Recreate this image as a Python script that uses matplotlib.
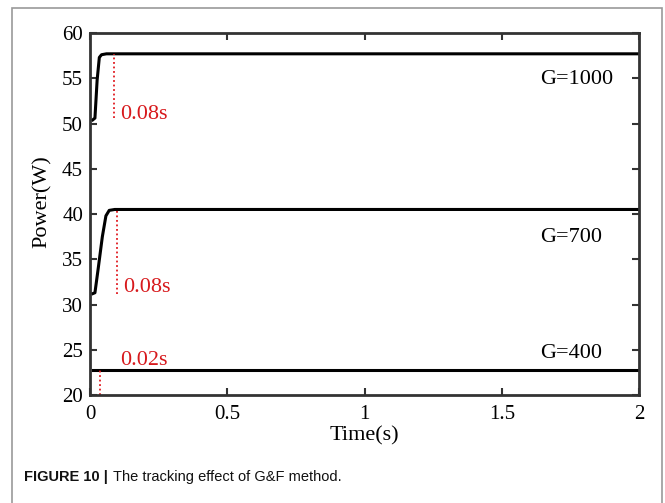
import numpy as np
import matplotlib.pyplot as plt
from matplotlib.patches import Rectangle

# data
t_1000 = [0.01, 0.018, 0.026, 0.034, 0.042, 0.06, 2.0]
p_1000 = [50.4, 50.6, 54.8, 57.3, 57.6, 57.7, 57.7]
t_700 = [0.01, 0.018, 0.03, 0.045, 0.058, 0.07, 0.09, 2.0]
p_700 = [31.2, 31.3, 34.0, 37.5, 39.8, 40.4, 40.5, 40.5]
t_400 = [0.01, 2.0]
p_400 = [22.8, 22.8]

# settling markers: (time, top, bottom, label, label position)
mark_t = [0.087, 0.097, 0.038]
mark_top = [57.7, 40.5, 22.8]
mark_bot = [50.6, 31.2, 20.0]
mark_txt = ['0.08s', '0.08s', '0.02s']
mark_lx = [0.11, 0.12, 0.11]
mark_ly = [50.5, 31.4, 23.3]

g_txt = ['G=1000', 'G=700', 'G=400']
g_x = 1.64
g_y = [54.4, 36.9, 24.1]

serif = ['Liberation Serif', 'DejaVu Serif']

fig = plt.figure(figsize=(6.65, 5.03), dpi=100)
fig.patches.append(Rectangle((12/665, -0.01), (662-12)/665, 1 - 8/503 + 0.01,
                             transform=fig.transFigure, fill=False,
                             edgecolor='#999999', linewidth=1.2))

ax = fig.add_axes([90/665, 1 - 395/503, (639-90)/665, (395-33)/503])
for t, p in [(t_1000, p_1000), (t_700, p_700), (t_400, p_400)]:
    ax.plot(t, p, color='black', linewidth=2.2)

for i in range(3):
    ax.plot([mark_t[i], mark_t[i]], [mark_bot[i], mark_top[i]],
            color='#e0191f', linestyle=(0, (1, 1.5)), linewidth=1.3)
    ax.text(mark_lx[i], mark_ly[i], mark_txt[i], color='#d7191c',
            fontsize=16, family=serif, ha='left', va='baseline')
    ax.text(g_x, g_y[i], g_txt[i], color='black', fontsize=16,
            family=serif, ha='left', va='baseline')

ax.set_xlim(0, 2)
ax.set_ylim(20, 60)
ax.set_xticks([0, 0.5, 1, 1.5, 2])
ax.set_xticklabels(['0', '0.5', '1', '1.5', '2'])
ax.set_yticks(np.arange(20, 61, 5))
ax.tick_params(direction='in', top=True, right=True, length=5, width=1.5,
               labelsize=15, color='#333333')
ax.tick_params(axis='x', pad=7)
ax.tick_params(axis='y', pad=5)
for lab in ax.get_xticklabels() + ax.get_yticklabels():
    lab.set_family(serif)
for s in ax.spines.values():
    s.set_linewidth(2)
    s.set_color('#333333')

ax.set_xlabel('Time(s)', fontsize=16, family=serif, labelpad=2)
ax.set_ylabel('Power(W)', fontsize=16, family=serif)
ax.yaxis.set_label_coords(-0.069, 0.533)

fig.text(24/665, 1 - 481/503, 'FIGURE 10 |', fontsize=10.5, fontweight='bold',
         family=['Liberation Sans', 'DejaVu Sans'], color='#111111')
fig.text(113/665, 1 - 481/503, 'The tracking effect of G&F method.', fontsize=10.5,
         family=['Liberation Sans', 'DejaVu Sans'], color='#111111')

fig.savefig('out.png', dpi=100)
